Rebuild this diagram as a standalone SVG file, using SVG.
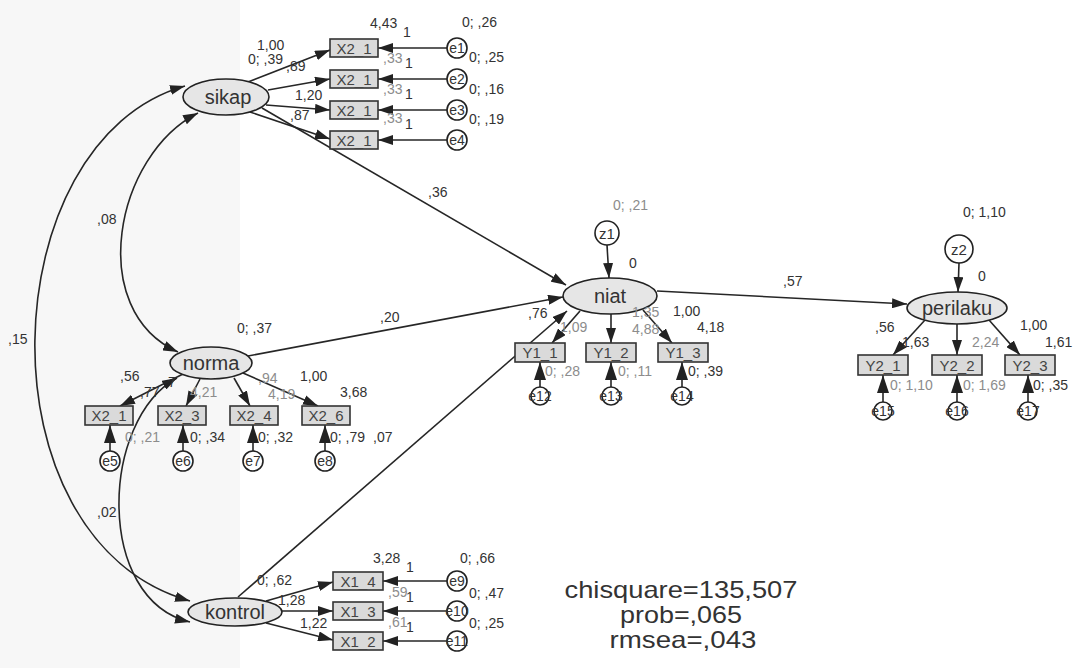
<svg xmlns="http://www.w3.org/2000/svg" width="1077" height="668" viewBox="0 0 1077 668">
<defs>
<marker id="ah" viewBox="0 0 15 10" refX="15" refY="5" markerWidth="15" markerHeight="10" markerUnits="userSpaceOnUse" orient="auto-start-reverse"><path d="M0,0 L15,5 L0,10 z" fill="#222"/></marker>
<marker id="ahb" viewBox="0 0 18 12" refX="18" refY="6" markerWidth="18" markerHeight="12" markerUnits="userSpaceOnUse" orient="auto"><path d="M0,0 L18,6 L0,12 z" fill="#222"/></marker>
</defs>
<style>
.lat{fill:#e6e6e6;stroke:#222;stroke-width:1.6}
.obs{fill:#dadada;stroke:#333;stroke-width:1.6}
.err{fill:#fff;stroke:#222;stroke-width:1.6}
.ln{fill:none;stroke:#262626;stroke-width:1.6;marker-end:url(#ah)}
.el{fill:none;stroke:#262626;stroke-width:1.6;marker-end:url(#ahb)}
.cv{fill:none;stroke:#262626;stroke-width:1.6;marker-start:url(#ah);marker-end:url(#ah)}
text{font-family:"Liberation Sans",Arial,sans-serif;fill:#333}
.nm{font-size:20px;text-anchor:middle;fill:#333}
.bx{font-size:15px;text-anchor:middle;fill:#444}
.ei{font-size:14px;text-anchor:middle;fill:#333}
.lb{font-size:14px}
.lg{font-size:14px;fill:#8c8c8c}
.fit{font-size:24px;text-anchor:middle;fill:#333}
</style>
<rect x="0" y="0" width="1077" height="668" fill="#ffffff"/>
<rect x="0" y="0" width="240" height="668" fill="#f7f7f7"/>

<g id="connectors">
<path class="cv" d="M198,113 C115,155 85,310 178,352"/>
<path class="cv" d="M185,86 C-8,140 -24,540 190,601"/>
<path class="cv" d="M177,378 C100,420 95,600 190,622"/>
<path class="ln" d="M262,108 L566,285"/>
<path class="ln" d="M248,356 L563,297"/>
<path class="ln" d="M238,597 L567,311"/>
<path class="ln" d="M657,291 L907,304"/>
<path class="ln" d="M248,82 L330,50"/>
<path class="ln" d="M268,90 L330,79"/>
<path class="ln" d="M266,105 L330,110"/>
<path class="ln" d="M250,112 L330,139"/>
<path class="ln" d="M447,48 L378,48"/>
<path class="ln" d="M447,79 L378,79"/>
<path class="ln" d="M447,110 L378,110"/>
<path class="ln" d="M447,140 L378,140"/>
<path class="ln" d="M183,374 L120,406"/>
<path class="ln" d="M200,379 L186,406"/>
<path class="ln" d="M234,378 L250,406"/>
<path class="ln" d="M243,373 L318,406"/>
<path class="el" d="M110,451 L110,425"/>
<path class="el" d="M183,451 L183,425"/>
<path class="el" d="M253,451 L253,425"/>
<path class="el" d="M325,451 L325,425"/>
<path class="ln" d="M266,601 L333,582"/>
<path class="ln" d="M282,611 L333,611"/>
<path class="ln" d="M266,623 L333,640"/>
<path class="ln" d="M447,581 L383,581"/>
<path class="ln" d="M447,611 L383,611"/>
<path class="ln" d="M447,641 L383,641"/>
<path class="ln" d="M607,245 L609,278"/>
<path class="ln" d="M580,311 L552,343"/>
<path class="ln" d="M611,314 L611,343"/>
<path class="ln" d="M643,310 L672,343"/>
<path class="el" d="M540,387 L540,362"/>
<path class="el" d="M611,387 L611,362"/>
<path class="el" d="M682,387 L682,362"/>
<path class="ln" d="M959,263 L958,292"/>
<path class="ln" d="M925,320 L893,355"/>
<path class="ln" d="M957,324 L957,355"/>
<path class="ln" d="M989,320 L1020,355"/>
<path class="el" d="M883,402 L883,375"/>
<path class="el" d="M957,402 L957,375"/>
<path class="el" d="M1028,402 L1028,375"/>
</g>

<g id="sikap"><ellipse class="lat" cx="226" cy="97" rx="43" ry="18"/><text class="nm" x="228" y="104">sikap</text></g>
<g id="norma"><ellipse class="lat" cx="211" cy="363" rx="41" ry="16"/><text class="nm" x="211" y="370">norma</text></g>
<g id="kontrol"><ellipse class="lat" cx="235" cy="612" rx="47" ry="14"/><text class="nm" x="235" y="619">kontrol</text></g>
<g id="niat"><ellipse class="lat" cx="610" cy="296" rx="47" ry="18"/><text class="nm" x="610" y="303">niat</text></g>
<g id="perilaku"><ellipse class="lat" cx="957" cy="308" rx="50" ry="16"/><text class="nm" x="957" y="315">perilaku</text></g>

<g id="X2_1a"><rect class="obs" x="330" y="39" width="48" height="18"/><text class="bx" x="354" y="54">X2_1</text></g>
<g id="X2_1b"><rect class="obs" x="330" y="70" width="48" height="18"/><text class="bx" x="354" y="85">X2_1</text></g>
<g id="X2_1c"><rect class="obs" x="330" y="101" width="48" height="18"/><text class="bx" x="354" y="116">X2_1</text></g>
<g id="X2_1d"><rect class="obs" x="330" y="131" width="48" height="18"/><text class="bx" x="354" y="146">X2_1</text></g>
<g id="e1"><circle class="err" cx="457" cy="48" r="10"/><text class="ei" x="457" y="53">e1</text></g>
<g id="e2"><circle class="err" cx="457" cy="79" r="10"/><text class="ei" x="457" y="84">e2</text></g>
<g id="e3"><circle class="err" cx="457" cy="110" r="10"/><text class="ei" x="457" y="115">e3</text></g>
<g id="e4"><circle class="err" cx="457" cy="140" r="10"/><text class="ei" x="457" y="145">e4</text></g>

<g id="X2_1n"><rect class="obs" x="85" y="406" width="48" height="19"/><text class="bx" x="109" y="421">X2_1</text></g>
<g id="X2_3"><rect class="obs" x="158" y="406" width="48" height="19"/><text class="bx" x="182" y="421">X2_3</text></g>
<g id="X2_4"><rect class="obs" x="230" y="406" width="48" height="19"/><text class="bx" x="254" y="421">X2_4</text></g>
<g id="X2_6"><rect class="obs" x="302" y="406" width="48" height="19"/><text class="bx" x="326" y="421">X2_6</text></g>
<g id="e5"><circle class="err" cx="110" cy="461" r="10"/><text class="ei" x="110" y="466">e5</text></g>
<g id="e6"><circle class="err" cx="183" cy="461" r="10"/><text class="ei" x="183" y="466">e6</text></g>
<g id="e7"><circle class="err" cx="253" cy="461" r="10"/><text class="ei" x="253" y="466">e7</text></g>
<g id="e8"><circle class="err" cx="325" cy="461" r="10"/><text class="ei" x="325" y="466">e8</text></g>

<g id="X1_4"><rect class="obs" x="333" y="572" width="50" height="18"/><text class="bx" x="358" y="587">X1_4</text></g>
<g id="X1_3"><rect class="obs" x="333" y="602" width="50" height="18"/><text class="bx" x="358" y="617">X1_3</text></g>
<g id="X1_2"><rect class="obs" x="333" y="632" width="50" height="18"/><text class="bx" x="358" y="647">X1_2</text></g>
<g id="e9"><circle class="err" cx="457" cy="581" r="10"/><text class="ei" x="457" y="586">e9</text></g>
<g id="e10"><circle class="err" cx="457" cy="611" r="10"/><text class="ei" x="457" y="616">e10</text></g>
<g id="e11"><circle class="err" cx="457" cy="641" r="10"/><text class="ei" x="457" y="646">e11</text></g>

<g id="z1"><circle class="err" cx="607" cy="233" r="12"/><text class="ei" x="607" y="239" style="font-size:15px">z1</text></g>
<g id="Y1_1"><rect class="obs" x="515" y="343" width="50" height="19"/><text class="bx" x="540" y="358">Y1_1</text></g>
<g id="Y1_2"><rect class="obs" x="586" y="343" width="50" height="19"/><text class="bx" x="611" y="358">Y1_2</text></g>
<g id="Y1_3"><rect class="obs" x="658" y="343" width="50" height="19"/><text class="bx" x="683" y="358">Y1_3</text></g>
<g id="e12"><circle class="err" cx="540" cy="396" r="9"/><text class="ei" x="540" y="401">e12</text></g>
<g id="e13"><circle class="err" cx="611" cy="396" r="9"/><text class="ei" x="611" y="401">e13</text></g>
<g id="e14"><circle class="err" cx="682" cy="396" r="9"/><text class="ei" x="682" y="401">e14</text></g>

<g id="z2"><circle class="err" cx="959" cy="249" r="14"/><text class="ei" x="959" y="255" style="font-size:15px">z2</text></g>
<g id="Y2_1"><rect class="obs" x="858" y="355" width="50" height="20"/><text class="bx" x="883" y="371">Y2_1</text></g>
<g id="Y2_2"><rect class="obs" x="932" y="355" width="50" height="20"/><text class="bx" x="957" y="371">Y2_2</text></g>
<g id="Y2_3"><rect class="obs" x="1005" y="355" width="50" height="20"/><text class="bx" x="1030" y="371">Y2_3</text></g>
<g id="e15"><circle class="err" cx="883" cy="411" r="9"/><text class="ei" x="883" y="416">e15</text></g>
<g id="e16"><circle class="err" cx="957" cy="411" r="9"/><text class="ei" x="957" y="416">e16</text></g>
<g id="e17"><circle class="err" cx="1028" cy="411" r="9"/><text class="ei" x="1028" y="416">e17</text></g>

<g id="labels">
<text class="lb" x="370" y="28">4,43</text>
<text class="lb" x="403" y="37">1</text>
<text class="lb" x="405" y="68">1</text>
<text class="lb" x="405" y="99">1</text>
<text class="lb" x="405" y="129">1</text>
<text class="lb" x="462" y="27">0; ,26</text>
<text class="lb" x="469" y="62">0; ,25</text>
<text class="lb" x="469" y="94">0; ,16</text>
<text class="lb" x="469" y="124">0; ,19</text>
<text class="lg" x="383" y="63">,33</text>
<text class="lg" x="383" y="94">,33</text>
<text class="lg" x="383" y="123">,33</text>
<text class="lb" x="257" y="50">1,00</text>
<text class="lb" x="248" y="64">0; ,39</text>
<text class="lb" x="286" y="71">,89</text>
<text class="lb" x="295" y="100">1,20</text>
<text class="lb" x="290" y="120">,87</text>
<text class="lb" x="428" y="197">,36</text>
<text class="lb" x="97" y="224">,08</text>
<text class="lb" x="8" y="344">,15</text>
<text class="lb" x="97" y="517">,02</text>
<text class="lb" x="380" y="322">,20</text>
<text class="lb" x="237" y="333">0; ,37</text>
<text class="lb" x="120" y="381">,56</text>
<text class="lb" x="140" y="397">,77</text>
<text class="lb" x="168" y="387">7</text>
<text class="lg" x="190" y="397">4,21</text>
<text class="lg" x="258" y="383">,94</text>
<text class="lg" x="268" y="399">4,19</text>
<text class="lb" x="300" y="381">1,00</text>
<text class="lb" x="340" y="397">3,68</text>
<text class="lg" x="125" y="442">0; ,21</text>
<text class="lb" x="190" y="442">0; ,34</text>
<text class="lb" x="258" y="442">0; ,32</text>
<text class="lb" x="330" y="442">0; ,79</text>
<text class="lb" x="373" y="442">,07</text>
<text class="lb" x="373" y="563">3,28</text>
<text class="lb" x="406" y="572">1</text>
<text class="lb" x="406" y="602">1</text>
<text class="lb" x="406" y="632">1</text>
<text class="lb" x="460" y="563">0; ,66</text>
<text class="lb" x="469" y="598">0; ,47</text>
<text class="lb" x="469" y="628">0; ,25</text>
<text class="lb" x="257" y="585">0; ,62</text>
<text class="lb" x="278" y="605">1,28</text>
<text class="lb" x="300" y="628">1,22</text>
<text class="lg" x="388" y="597">,59</text>
<text class="lg" x="388" y="627">,61</text>
<text class="lg" x="613" y="210">0; ,21</text>
<text class="lb" x="629" y="268">0</text>
<text class="lb" x="528" y="318">,76</text>
<text class="lg" x="560" y="332">1,09</text>
<text class="lg" x="632" y="317">1,35</text>
<text class="lg" x="632" y="334">4,88</text>
<text class="lb" x="673" y="316">1,00</text>
<text class="lb" x="697" y="332">4,18</text>
<text class="lg" x="545" y="376">0; ,28</text>
<text class="lg" x="618" y="376">0; ,11</text>
<text class="lb" x="688" y="376">0; ,39</text>
<text class="lb" x="783" y="286">,57</text>
<text class="lb" x="963" y="217">0; 1,10</text>
<text class="lb" x="978" y="281">0</text>
<text class="lb" x="875" y="332">,56</text>
<text class="lb" x="902" y="347">1,63</text>
<text class="lg" x="972" y="347">2,24</text>
<text class="lb" x="1020" y="330">1,00</text>
<text class="lb" x="1045" y="347">1,61</text>
<text class="lg" x="890" y="390">0; 1,10</text>
<text class="lg" x="963" y="390">0; 1,69</text>
<text class="lb" x="1033" y="390">0; ,35</text>
</g>

<g id="fit">
<text class="fit" x="681" y="598" textLength="233" lengthAdjust="spacingAndGlyphs">chisquare=135,507</text>
<text class="fit" x="681" y="623" textLength="122" lengthAdjust="spacingAndGlyphs">prob=,065</text>
<text class="fit" x="683" y="648" textLength="147" lengthAdjust="spacingAndGlyphs">rmsea=,043</text>
</g>
</svg>
